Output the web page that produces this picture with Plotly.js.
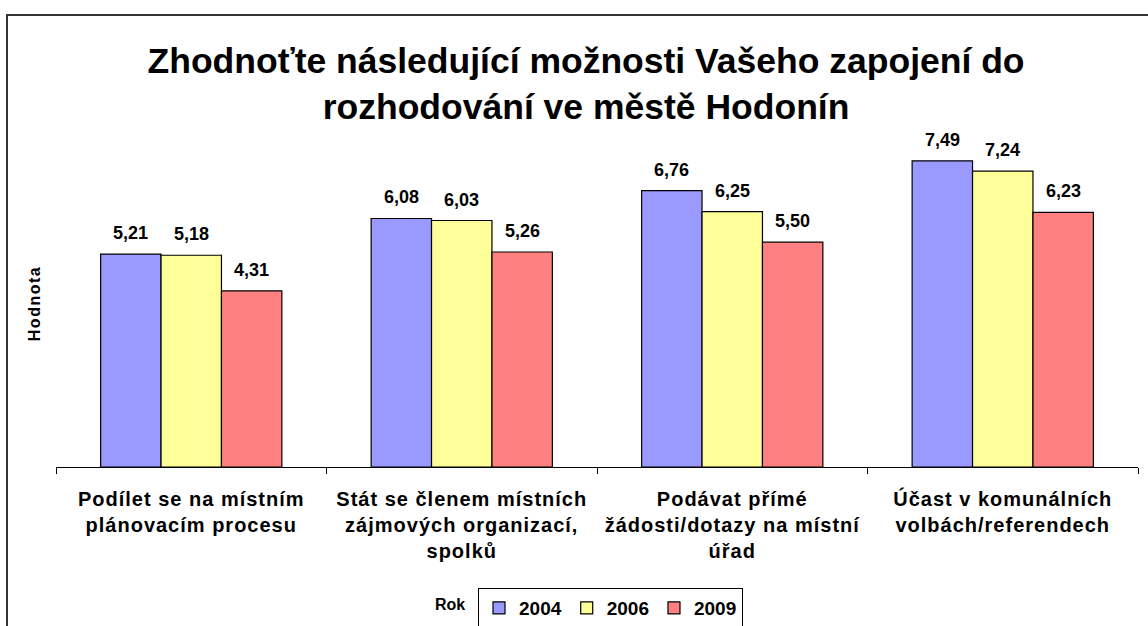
<!DOCTYPE html>
<html>
<head>
<meta charset="utf-8">
<script src="https://cdn.plot.ly/plotly-3.0.1.min.js"></script>
<style>
  html, body { margin: 0; padding: 0; background: #fff; }
  #chart { width: 1148px; height: 626px; }
  .xtick text { letter-spacing: 1px; }
  .ytitle { letter-spacing: 1.5px; }
</style>
</head>
<body>
<div id="chart"></div>
<script>
const categories = [
  'Podílet se na místním<br>plánovacím procesu',
  'Stát se členem místních<br>zájmových organizací,<br>spolků',
  'Podávat přímé<br>žádosti/dotazy na místní<br>úřad',
  'Účast v komunálních<br>volbách/referendech'
];
const years = ['2004', '2006', '2009'];
const values2004 = [5.21, 6.08, 6.76, 7.49];
const values2006 = [5.18, 6.03, 6.25, 7.24];
const values2009 = [4.31, 5.26, 5.50, 6.23];
const colors = ['#9999FF', '#FFFF99', '#FF8080'];

const series = [values2004, values2006, values2009];
const bargap = 0.33;
const font = '"Liberation Sans", Arial, sans-serif';

const traces = series.map((vals, i) => ({
  type: 'bar',
  name: years[i],
  x: categories,
  y: vals,
  marker: { color: colors[i], line: { color: '#000', width: 1.2 } },
  hoverinfo: 'skip'
}));

const annotations = [];
series.forEach((vals, s) => {
  vals.forEach((v, c) => {
    annotations.push({
      x: c + (s - 1) * (1 - bargap) / 3,
      y: v,
      xref: 'x', yref: 'y',
      text: v.toFixed(2).replace('.', ','),
      showarrow: false,
      yanchor: 'middle',
      yshift: 21,
      font: { family: font, size: 18, color: '#000', weight: 'bold' }
    });
  });
});
annotations.push({
  x: (449.5 - 56) / 1082, y: (467 - 604) / 327, xref: 'paper', yref: 'paper',
  text: 'Rok', showarrow: false, xanchor: 'center', yanchor: 'middle',
  font: { family: font, size: 16, color: '#000', weight: 'bold' }
});

const layout = {
  width: 1148,
  height: 626,
  margin: { l: 56, r: 10, t: 140, b: 159 },
  paper_bgcolor: '#fff',
  plot_bgcolor: '#fff',
  barmode: 'group',
  bargap: bargap,
  bargroupgap: 0,
  showlegend: true,
  title: {
    text: 'Zhodnoťte následující možnosti Vašeho zapojení do<br>rozhodování ve městě Hodonín',
    x: 0.5105, xanchor: 'center', xref: 'container',
    y: 1 - 73 / 626, yanchor: 'middle', yref: 'container',
    font: { family: font, size: 35.5, color: '#000', weight: 'bold' }
  },
  xaxis: {
    type: 'category',
    showline: true, linecolor: '#000', linewidth: 1,
    ticks: 'outside', ticklen: 6, tickcolor: '#000', tickwidth: 1,
    tickson: 'boundaries',
    ticklabelstandoff: 14,
    showgrid: false, zeroline: false,
    tickfont: { family: font, size: 20, color: '#000', weight: 'bold' },
    automargin: false,
    fixedrange: true
  },
  yaxis: {
    range: [0, 8],
    showticklabels: false, showline: false, showgrid: false, zeroline: false, ticks: '',
    title: { text: 'Hodnota', standoff: 10, font: { family: font, size: 16, color: '#000', weight: 'bold' } },
    automargin: false,
    fixedrange: true
  },
  legend: {
    orientation: 'h',
    xref: 'container', yref: 'container',
    x: 478 / 1148, xanchor: 'left',
    y: 1 - 588 / 626, yanchor: 'top',
    bordercolor: '#000', borderwidth: 1,
    bgcolor: '#fff',
    font: { family: font, size: 19, color: '#000', weight: 'bold' },
    itemwidth: 30,
    traceorder: 'normal'
  },
  shapes: [{
    type: 'rect', xref: 'paper', yref: 'paper',
    x0: (7 - 56) / 1082, x1: (1170 - 56) / 1082,
    y0: (467 - 660) / 327, y1: (467 - 15) / 327,
    line: { color: '#333', width: 2 }, fillcolor: 'rgba(0,0,0,0)', layer: 'below'
  }],
  annotations: annotations
};

Plotly.newPlot('chart', traces, layout, { displayModeBar: false, staticPlot: true });
</script>
</body>
</html>
